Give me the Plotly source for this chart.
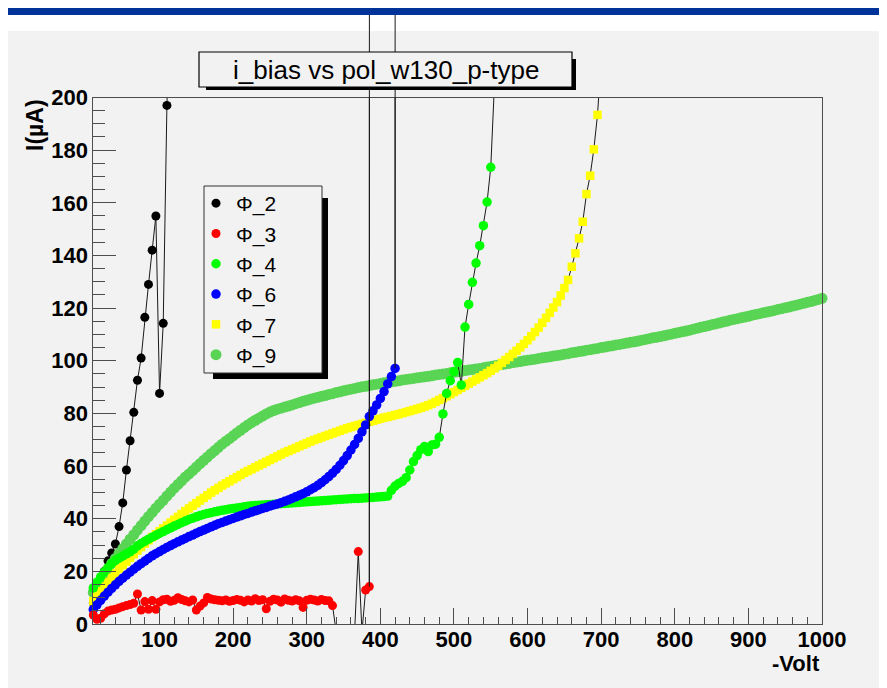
import plotly.graph_objects as go

# ---------------- data (x: -Volt, y: I in µA) ----------------
V_PHI2 = list(range(10, 120, 5))
I_PHI2 = [8, 12, 16, 20, 24, 27, 30.4, 37, 46, 58.5,
          69.6, 80.4, 92.6, 101, 116.5, 129, 142, 155, 87.6, 114.2,
          197, 250]

V_PHI3 = list(range(10, 395, 5))
I_PHI3 = [3.4, 1.8, 2.2, 3.9, 4.9, 5.3, 5.6, 6.1, 6.6, 7.0,
          7.4, 7.9, 11.4, 5.3, 8.5, 5.6, 8.9, 5.6, 8.4, 9.2,
          9.4, 8.6, 9.0, 10.0, 9.3, 8.8, 8.4, 9.1, 5.3, 6.8,
          8.0, 10.1, 9.5, 9.2, 9.0, 8.8, 9.1, 8.6, 8.9, 9.3,
          9.0, 8.4, 9.1, 8.7, 9.6, 8.9, 9.2, 5.8, 8.6, 9.4,
          9.1, 8.3, 9.5, 9.0, 8.7, 9.2, 8.8, 6.3, 9.0, 9.4,
          9.1, 8.7, 9.3, 8.9, 8.8, 7.0, -3, -3, -3, -3,
          -3, -3, 27.5, -3, 12.9, 14.2, 10000]

V_PHI4 = list(range(10, 560, 5))
I_PHI4 = [13.7, 15.9, 17.9, 19.8, 21.4, 22.9, 24.1, 25.0, 25.8, 26.6,
          27.4, 28.4, 29.7, 30.6, 31.4, 32.2, 33.0, 33.7, 34.4, 35.1,
          35.8, 36.5, 37.2, 37.8, 38.5, 39.1, 39.7, 40.2, 40.7, 41.2,
          41.6, 42.0, 42.3, 42.6, 42.9, 43.2, 43.4, 43.7, 43.9, 44.1,
          44.3, 44.5, 44.7, 44.9, 45.0, 45.1, 45.2, 45.3, 45.4, 45.5,
          45.6, 45.7, 45.8, 45.9, 46.0, 46.1, 46.2, 46.3, 46.4, 46.5,
          46.6, 46.7, 46.8, 46.9, 47.0, 47.1, 47.2, 47.3, 47.4, 47.5,
          47.6, 47.7, 47.7, 47.8, 47.9, 48.0, 48.1, 48.2, 48.3, 48.4,
          48.6, 50.8, 52.4, 53.4, 54.2, 55.6, 58.5, 61.7, 64.0, 66.2,
          67.4, 65.5, 68.0, 68.3, 70.9, 79.8, 87.6, 92.4, 95.9, 99.3,
          90.8, 112.8, 121.4, 129.8, 137.1, 143.7, 151.3, 160.3, 173.5, 205]

V_PHI6 = list(range(10, 430, 5))
I_PHI6 = [5.5, 7.3, 9.0, 10.6, 12.1, 13.5, 14.9, 16.2, 17.4, 18.6,
          19.7, 20.8, 21.9, 22.9, 23.9, 24.9, 25.9, 26.7, 27.5, 28.3,
          29.1, 29.8, 30.5, 31.2, 31.9, 32.5, 33.2, 33.8, 34.5, 35.1,
          35.7, 36.3, 36.9, 37.5, 38.1, 38.6, 39.1, 39.6, 40.1, 40.6,
          41.1, 41.6, 42.0, 42.5, 43.0, 43.4, 43.9, 44.3, 44.8, 45.2,
          45.6, 46.1, 46.6, 47.1, 47.7, 48.3, 48.9, 49.5, 50.2, 51.0,
          51.8, 52.7, 53.7, 54.8, 56.0, 57.3, 58.7, 60.3, 62.1, 64.0,
          66.1, 68.2, 70.5, 73.0, 75.6, 78.8, 81.0, 83.2, 85.7, 88.3,
          91.2, 94.0, 97.1, 10000]

V_PHI7 = list(range(10, 705, 5))
I_PHI7 = [8.7, 10.6, 12.4, 14.2, 15.9, 17.6, 19.3, 20.9, 22.3, 23.7,
          25.1, 26.5, 27.9, 29.2, 30.5, 31.8, 33.0, 34.1, 35.2, 36.3,
          37.4, 38.5, 39.6, 40.7, 41.8, 42.9, 43.9, 44.9, 45.9, 46.9,
          47.9, 48.9, 49.9, 50.8, 51.7, 52.6, 53.4, 54.2, 55.0, 55.8,
          56.6, 57.4, 58.1, 58.8, 59.5, 60.2, 60.9, 61.6, 62.3, 63.0,
          63.7, 64.4, 65.1, 65.7, 66.3, 66.9, 67.5, 68.1, 68.7, 69.3,
          69.9, 70.4, 70.9, 71.4, 71.9, 72.4, 72.9, 73.4, 73.9, 74.4,
          74.8, 75.2, 75.6, 76.0, 76.4, 76.8, 77.2, 77.6, 78.0, 78.4,
          78.7, 79.0, 79.4, 79.7, 80.1, 80.5, 80.9, 81.3, 81.7, 82.1,
          82.6, 83.1, 83.7, 84.4, 85.1, 85.8, 86.5, 87.3, 88.1, 88.9,
          89.7, 90.5, 91.3, 92.1, 92.9, 93.7, 94.5, 95.3, 96.2, 97.1,
          98.1, 99.2, 100.3, 101.4, 102.6, 103.8, 105.1, 106.4, 107.8, 109.3,
          110.9, 112.6, 114.4, 116.3, 118.2, 120.2, 122.3, 124.8, 127.6, 130.7,
          135.7, 140.8, 146.5, 152.8, 163.3, 170.3, 180.3, 193.4, 215]

V_PHI9 = list(range(10, 1005, 5))
I_PHI9 = [12.0, 14.3, 16.6, 18.9, 20.9, 23.0, 24.9, 26.8, 28.6, 30.4,
          32.2, 33.9, 35.7, 37.4, 39.1, 40.8, 42.4, 44.0, 45.5, 47.0,
          48.6, 50.1, 51.6, 53.0, 54.4, 55.8, 57.0, 58.3, 59.6, 60.9,
          62.2, 63.4, 64.7, 65.9, 67.1, 68.3, 69.4, 70.4, 71.5, 72.6,
          73.6, 74.6, 75.6, 76.5, 77.4, 78.2, 79.0, 79.8, 80.5, 81.1,
          81.6, 82.0, 82.4, 82.8, 83.2, 83.7, 84.1, 84.6, 85.0, 85.4,
          85.8, 86.1, 86.5, 86.8, 87.2, 87.5, 87.9, 88.2, 88.6, 88.9,
          89.2, 89.5, 89.8, 90.1, 90.3, 90.6, 90.9, 91.1, 91.4, 91.6,
          91.8, 92.0, 92.2, 92.4, 92.7, 92.9, 93.1, 93.3, 93.5, 93.7,
          93.9, 94.1, 94.3, 94.6, 94.8, 95.0, 95.2, 95.4, 95.6, 95.8,
          96.0, 96.3, 96.5, 96.7, 96.9, 97.1, 97.3, 97.6, 97.8, 98.1,
          98.3, 98.5, 98.8, 99.0, 99.3, 99.5, 99.7, 100.0, 100.2, 100.4,
          100.6, 100.9, 101.1, 101.3, 101.5, 101.8, 102.0, 102.2, 102.5, 102.7,
          103.0, 103.2, 103.5, 103.7, 104.0, 104.2, 104.5, 104.7, 105.0, 105.2,
          105.5, 105.7, 106.0, 106.2, 106.5, 106.7, 107.0, 107.2, 107.5, 107.8,
          108.1, 108.4, 108.7, 108.9, 109.2, 109.5, 109.8, 110.1, 110.4, 110.7,
          111.0, 111.3, 111.6, 112.0, 112.3, 112.7, 113.0, 113.3, 113.7, 114.0,
          114.3, 114.7, 115.0, 115.4, 115.7, 116.0, 116.3, 116.6, 116.9, 117.3,
          117.6, 117.9, 118.2, 118.5, 118.8, 119.1, 119.5, 119.8, 120.1, 120.4,
          120.8, 121.1, 121.5, 121.8, 122.2, 122.5, 122.9, 123.3, 123.7]

SERIES_NAMES = ["Φ_2", "Φ_3", "Φ_4", "Φ_6", "Φ_7", "Φ_9"]
SERIES_DATA = {
    "Φ_2": (V_PHI2, I_PHI2),
    "Φ_3": (V_PHI3, I_PHI3),
    "Φ_4": (V_PHI4, I_PHI4),
    "Φ_6": (V_PHI6, I_PHI6),
    "Φ_7": (V_PHI7, I_PHI7),
    "Φ_9": (V_PHI9, I_PHI9),
}
X_TICK_LABELS = ["100", "200", "300", "400", "500", "600", "700", "800", "900", "1000"]
Y_TICK_LABELS = ["0", "20", "40", "60", "80", "100", "120", "140", "160", "180", "200"]
TITLE = "i_bias vs pol_w130_p-type"
X_TITLE = "-Volt"
Y_TITLE = "I(µA)"

for k, (xs, ys) in SERIES_DATA.items():
    if len(xs) != len(ys):
        raise ValueError(f"{k}: {len(xs)} x vs {len(ys)} y")

# ---------------- styles ----------------
STYLE = {
    "Φ_2": dict(color="#000000", symbol="circle", size=9),
    "Φ_3": dict(color="#ff0000", symbol="circle", size=9),
    "Φ_4": dict(color="#00ff00", symbol="circle", size=9.5),
    "Φ_6": dict(color="#0000ff", symbol="circle", size=9.5),
    "Φ_7": dict(color="#ffff00", symbol="square", size=8.5),
    "Φ_9": dict(color="#59d454", symbol="circle", size=11),
}
DRAW_ORDER = ["Φ_2", "Φ_9", "Φ_7", "Φ_4", "Φ_6", "Φ_3"]
LINE_COLOR = "#1a1a1a"
FRAME_COLOR = "#4d4d4d"
PANEL = "#f2f2f2"
FONT = "Liberation Sans"

X_RANGE = [10, 1000]
Y_RANGE = [0, 200]
OVERFLOW = 1000  # readings flagged as overflow (drawn beyond the frame)

# page geometry: the html body adds an 8px margin, so the figure is shifted
OFF = 8
PAGE_W, PAGE_H = 887, 688
W, H = PAGE_W - OFF, PAGE_H - OFF

# frame in page pixels
FL, FR, FT, FB = 93.3, 822.0, 97.5, 624.0


def px(x):
    return (x - OFF) / W


def py(y):
    return 1 - (y - OFF) / H


xd = [px(FL), px(FR)]
yd = [py(FB), py(FT)]
per = (Y_RANGE[1] - Y_RANGE[0]) / (yd[1] - yd[0])
Y2_RANGE = [Y_RANGE[0] - yd[0] * per, Y_RANGE[1] + (1 - yd[1]) * per]

fig = go.Figure()

for name in DRAW_ORDER:
    xs, ys = SERIES_DATA[name]
    st = STYLE[name]
    fig.add_trace(go.Scatter(
        x=xs, y=ys, mode="lines", line=dict(color=LINE_COLOR, width=1),
        showlegend=False, hoverinfo="skip"))
    ym = [v if Y_RANGE[0] <= v <= Y_RANGE[1] else None for v in ys]
    fig.add_trace(go.Scatter(
        x=xs, y=ym, mode="markers", name=name, cliponaxis=False,
        legendrank=SERIES_NAMES.index(name) + 1,
        marker=dict(color=st["color"], symbol=st["symbol"], size=st["size"],
                    line=dict(width=0))))

# overflow readings: their connecting lines run off the pad
for name in SERIES_NAMES:
    xs, ys = SERIES_DATA[name]
    for i, v in enumerate(ys):
        if v >= OVERFLOW and i > 0:
            fig.add_trace(go.Scatter(
                x=[xs[i - 1], xs[i]], y=[ys[i - 1], ys[i]], mode="lines",
                line=dict(color=LINE_COLOR, width=1), xaxis="x2", yaxis="y2",
                showlegend=False, hoverinfo="skip"))

tickfont = dict(family=FONT, size=22, color="black", weight="bold")

fig.update_layout(
    width=W, height=H, autosize=False,
    margin=dict(l=0, r=0, t=0, b=0, pad=0, autoexpand=False),
    paper_bgcolor="white", plot_bgcolor="rgba(0,0,0,0)",
    showlegend=True,
    xaxis=dict(domain=xd, range=X_RANGE, showgrid=False, zeroline=False,
               automargin=False, ticklabelstandoff=-4,
               showline=True, linecolor=FRAME_COLOR, linewidth=1, mirror=True,
               ticks="inside", ticklen=16, tickwidth=1, tickcolor=FRAME_COLOR,
               tickmode="array", tickvals=[int(t) for t in X_TICK_LABELS],
               ticktext=X_TICK_LABELS, tickfont=tickfont,
               minor=dict(ticks="inside", ticklen=7, dtick=20, tick0=0,
                          tickcolor=FRAME_COLOR, tickwidth=1, showgrid=False)),
    yaxis=dict(domain=yd, range=Y_RANGE, showgrid=False, zeroline=False,
               automargin=False,
               showline=True, linecolor=FRAME_COLOR, linewidth=1, mirror=True,
               ticks="inside", ticklen=23, tickwidth=1, tickcolor=FRAME_COLOR,
               tickmode="array", tickvals=[int(t) for t in Y_TICK_LABELS],
               ticktext=Y_TICK_LABELS, tickfont=tickfont,
               minor=dict(ticks="inside", ticklen=12, dtick=5, tick0=0,
                          tickcolor=FRAME_COLOR, tickwidth=1, showgrid=False)),
    xaxis2=dict(domain=xd, range=X_RANGE, visible=False, anchor="y2", automargin=False),
    yaxis2=dict(domain=[0, 1], range=Y2_RANGE, visible=False, anchor="x2", automargin=False),
    legend=dict(x=px(196), y=py(183), xanchor="left", yanchor="top",
                bgcolor="rgba(0,0,0,0)", borderwidth=0,
                font=dict(family=FONT, size=21, color="black"),
                traceorder="normal", itemclick=False),
)

shapes = [
    # grey canvas
    dict(type="rect", xref="paper", yref="paper", x0=0, x1=1, y0=0, y1=py(31),
         fillcolor=PANEL, line=dict(width=0), layer="below"),
    # slide header bar
    dict(type="rect", xref="paper", yref="paper", x0=0, x1=1, y0=py(15), y1=1,
         fillcolor="#003399", line=dict(width=0), layer="above"),
    # title box shadow + box
    dict(type="rect", xref="paper", yref="paper", x0=px(206), x1=px(576),
         y0=py(90), y1=py(59), fillcolor="black", line=dict(width=0), layer="above"),
    dict(type="rect", xref="paper", yref="paper", x0=px(199), x1=px(572),
         y0=py(87), y1=py(52), fillcolor=PANEL, line=dict(color="black", width=1.2),
         layer="above"),
    # legend shadow + box
    dict(type="rect", xref="paper", yref="paper", x0=px(213), x1=px(328),
         y0=py(379), y1=py(198), fillcolor="black", line=dict(width=0), layer="above"),
    dict(type="rect", xref="paper", yref="paper", x0=px(204), x1=px(322),
         y0=py(373), y1=py(186), fillcolor=PANEL, line=dict(color="#333333", width=1),
         layer="above"),
]
fig.update_layout(shapes=shapes)

fig.add_annotation(text=TITLE, xref="paper", yref="paper", x=px(385.5), y=py(70),
                   xanchor="center", yanchor="middle", showarrow=False,
                   font=dict(family=FONT, size=26, color="black"))
fig.add_annotation(text=X_TITLE, xref="paper", yref="paper", x=px(822), y=py(663),
                   xanchor="right", yanchor="middle", showarrow=False,
                   font=dict(family=FONT, size=22, color="black", weight="bold"))
fig.add_annotation(text=Y_TITLE, xref="paper", yref="paper", x=px(35), y=py(125),
                   xanchor="center", yanchor="middle", showarrow=False, textangle=-90,
                   font=dict(family=FONT, size=23, color="black", weight="bold"))

fig.write_html("out.html")
